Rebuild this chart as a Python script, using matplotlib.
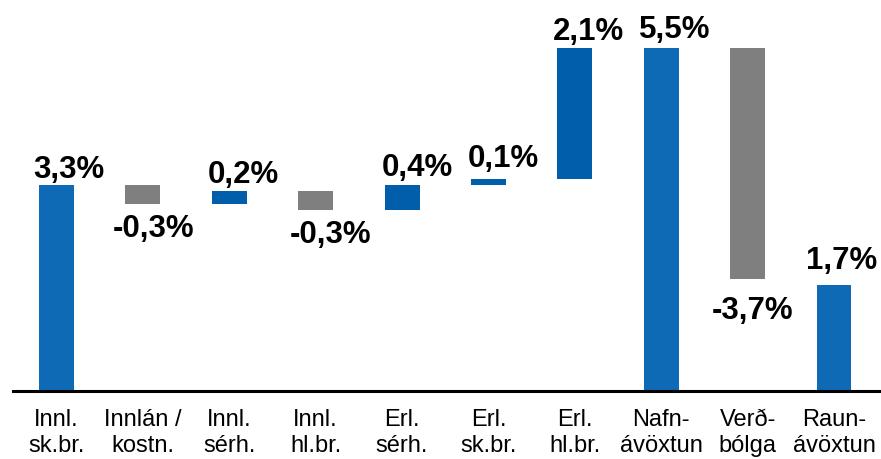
import matplotlib
matplotlib.use("Agg")
import matplotlib.pyplot as plt
import numpy as np

# ---------------- data ----------------
categories = ["Innl.\nsk.br.", "Innlán /\nkostn.", "Innl.\nsérh.", "Innl.\nhl.br.",
              "Erl.\nsérh.", "Erl.\nsk.br.", "Erl.\nhl.br.", "Nafn-\návöxtun",
              "Verð-\nbólga", "Raun-\návöxtun"]
values = [3.3, -0.3, 0.2, -0.3, 0.4, 0.1, 2.1, 5.5, -3.7, 1.7]
kinds = ["total", "step", "step", "step", "step", "step", "step", "total", "step", "total"]

# ---------------- style ----------------
plt.rcParams['font.family'] = ['Liberation Sans', 'DejaVu Sans']
C_TOTAL = "#0E6AB5"
C_UP = "#005EAA"
C_DOWN = "#7F7F7F"
label_dx_px = [12, 11, 14, 14.5, 15, 14.5, 13.5, 13.5, 4.5, 7.5]
label_gap_px = [8.7, 9, 9, 9, 10.7, 13, 9, 11, 16, 16.7]
PX2PT = 0.72

W, H = 881, 460
fig = plt.figure(figsize=(W / 100, H / 100), dpi=100)
base_y = 391.5
ax = fig.add_axes([13 / W, (H - base_y) / H, 868 / W, base_y / H])
ax.set_xlim(-0.503, 9.544)
ax.set_ylim(0, base_y / 62.2)

x = np.arange(len(categories))
bottoms, heights, colors = [], [], []
level = 0.0
for v, k in zip(values, kinds):
    if k == "total":
        bottoms.append(0.0)
        heights.append(v)
        colors.append(C_TOTAL)
        level = v
    else:
        bottoms.append(level)
        heights.append(v)
        colors.append(C_UP if v > 0 else C_DOWN)
        level = level + v

ax.bar(x, heights, bottom=bottoms, width=0.405, color=colors, linewidth=0)

for i, (v, b, h) in enumerate(zip(values, bottoms, heights)):
    txt = f"{abs(v):.1f}".replace('.', ',') + '%'
    if v < 0:
        txt = '-' + txt
    top = max(b, b + h)
    bot = min(b, b + h)
    if v >= 0:
        ax.annotate(txt, (x[i], top), xytext=(label_dx_px[i] * PX2PT, label_gap_px[i] * PX2PT),
                    textcoords='offset points', ha='center', va='baseline',
                    fontsize=22.5, fontweight='bold', color='black', annotation_clip=False)
    else:
        ax.annotate(txt, (x[i], bot), xytext=(label_dx_px[i] * PX2PT, -label_gap_px[i] * PX2PT),
                    textcoords='offset points', ha='center', va='top',
                    fontsize=22.5, fontweight='bold', color='black', annotation_clip=False)

for s in ['top', 'right', 'left']:
    ax.spines[s].set_visible(False)
ax.spines['bottom'].set_linewidth(2.2)
ax.spines['bottom'].set_color('black')
ax.set_yticks([])
ax.set_xticks(x)
ax.set_xticklabels(categories, fontsize=17, linespacing=1.25)
ax.tick_params(axis='x', length=0, pad=12.5)

fig.savefig("out.png", dpi=100)
